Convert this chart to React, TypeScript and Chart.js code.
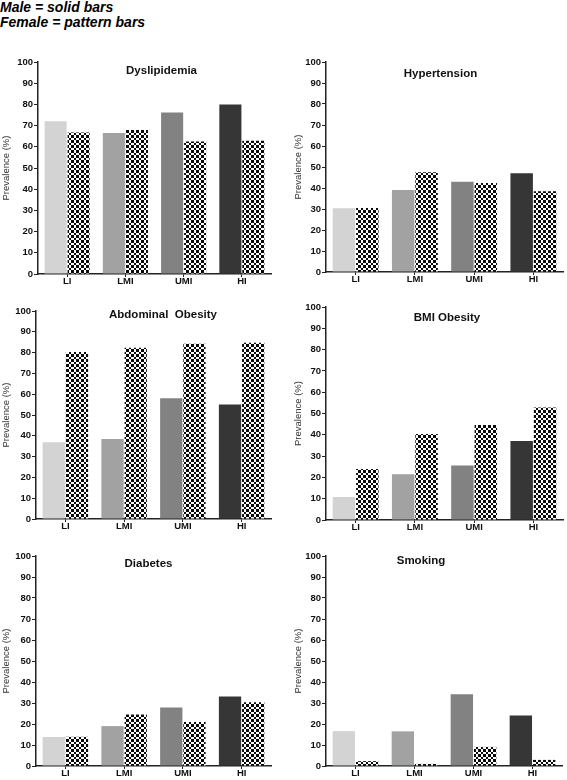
import React, { useEffect, useRef } from "react";
import { Chart, registerables } from "chart.js";

Chart.register(...registerables);

// ---- data ----
const CATEGORIES = ["LI", "LMI", "UMI", "HI"];
const Y_MIN = 0;
const Y_MAX = 100;
const Y_STEP = 10;
const MALE_COLORS = ["#d3d3d3", "#a2a2a2", "#828282", "#363636"];

const DYS_MALE = [72, 66.5, 76.2, 80];
const DYS_FEMALE = [66.8, 67.9, 62.5, 62.8];
const HYP_MALE = [30.3, 39, 43, 47];
const HYP_FEMALE = [30.5, 47.5, 42.4, 38.5];
const ABD_MALE = [36.9, 38.5, 58, 55.1];
const ABD_FEMALE = [80.3, 82.3, 84.2, 84.7];
const BMI_MALE = [10.8, 21.5, 25.6, 37.1];
const BMI_FEMALE = [23.9, 40.4, 44.6, 52.8];
const DIA_MALE = [13.8, 19, 27.9, 33.1];
const DIA_FEMALE = [13.9, 24.5, 21, 30.3];
const SMK_MALE = [16.6, 16.5, 34.2, 24.1];
const SMK_FEMALE = [2.3, 1, 9.1, 2.9];

const TITLES = ["Dyslipidemia", "Hypertension", "Abdominal  Obesity", "BMI Obesity", "Diabetes", "Smoking"];
const Y_TITLE = "Prevalence (%)";
const LEGEND_LINES = ["Male = solid bars", "Female = pattern bars"];

// ---- layout (page coordinates of each plot area) ----
const FONT = "'Liberation Sans', Arial, Helvetica, sans-serif";
const PANELS = [
  { title: TITLES[0], male: DYS_MALE, female: DYS_FEMALE, area: { l: 38, t: 62, r: 271, b: 274 }, tdx: 7, tdy: 9, yTitleX: 7 },
  { title: TITLES[1], male: HYP_MALE, female: HYP_FEMALE, area: { l: 326, t: 62, r: 563, b: 272 }, tdx: -4, tdy: 12, yTitleX: 298.5 },
  { title: TITLES[2], male: ABD_MALE, female: ABD_FEMALE, area: { l: 36, t: 311, r: 271, b: 519 }, tdx: 9.5, tdy: 3.5, yTitleX: 7 },
  { title: TITLES[3], male: BMI_MALE, female: BMI_FEMALE, area: { l: 326, t: 307, r: 563, b: 520 }, tdx: 2.5, tdy: 11, yTitleX: 298.5 },
  { title: TITLES[4], male: DIA_MALE, female: DIA_FEMALE, area: { l: 36, t: 556, r: 271, b: 766 }, tdx: -5, tdy: 7.5, yTitleX: 7 },
  { title: TITLES[5], male: SMK_MALE, female: SMK_FEMALE, area: { l: 326, t: 556, r: 562, b: 766 }, tdx: -23, tdy: 5, yTitleX: 298.5 },
];

const PAD_TOP = 12;
const PAD_RIGHT = 6;
const X_AXIS_H = 16;
const Y_TITLE_SIZE = 9.5;
const Y_TITLE_LH = 1.2;

function makeChecker(): CanvasPattern | string {
  const c = document.createElement("canvas");
  c.width = 5;
  c.height = 5;
  const g = c.getContext("2d");
  if (!g) return "#555";
  g.fillStyle = "#ffffff";
  g.fillRect(0, 0, 5, 5);
  g.fillStyle = "#0a0a0a";
  g.fillRect(0, 0, 3, 3);
  g.fillRect(3, 3, 2, 2);
  return g.createPattern(c, "repeat") || "#555";
}

type PanelDef = (typeof PANELS)[number];

function Panel({ p }: { p: PanelDef }) {
  const ref = useRef<HTMLCanvasElement | null>(null);
  const canvasLeft = Math.round(p.yTitleX - (Y_TITLE_SIZE * Y_TITLE_LH) / 2);
  const yAxisW = p.area.l - canvasLeft;
  const canvasTop = p.area.t - PAD_TOP;
  const width = p.area.r - canvasLeft + PAD_RIGHT;
  const height = p.area.b - p.area.t + PAD_TOP + X_AXIS_H;

  useEffect(() => {
    if (!ref.current) return;
    const checker = makeChecker();
    const titlePlugin = {
      id: "innerTitle",
      afterDraw(chart: any) {
        const { ctx, chartArea } = chart;
        ctx.save();
        ctx.font = `bold 11.5px ${FONT}`;
        ctx.fillStyle = "#111";
        ctx.textAlign = "center";
        ctx.textBaseline = "middle";
        ctx.fillText(p.title, (chartArea.left + chartArea.right) / 2 + p.tdx, chartArea.top + p.tdy);
        ctx.restore();
      },
    };
    const chart = new Chart(ref.current, {
      type: "bar",
      data: {
        labels: CATEGORIES,
        datasets: [
          {
            label: "Male",
            data: p.male,
            backgroundColor: MALE_COLORS,
            borderWidth: 0,
            categoryPercentage: 0.79,
            barPercentage: 0.96,
          },
          {
            label: "Female",
            data: p.female,
            backgroundColor: checker as any,
            borderWidth: 0,
            categoryPercentage: 0.79,
            barPercentage: 0.96,
          },
        ],
      },
      options: {
        animation: false,
        responsive: false,
        maintainAspectRatio: false,
        devicePixelRatio: 1,
        layout: { padding: { top: PAD_TOP, right: PAD_RIGHT, left: 0, bottom: 0 } },
        plugins: {
          legend: { display: false },
          tooltip: { enabled: false },
          title: { display: false },
        },
        scales: {
          x: {
            offset: true,
            grid: {
              offset: false,
              drawOnChartArea: false,
              drawTicks: true,
              tickLength: 3,
              color: "#222",
              lineWidth: 1,
            },
            border: { display: true, color: "#222", width: 1.5 },
            ticks: {
              color: "#111",
              padding: -1,
              font: { family: FONT, size: 9.5, weight: "bold" },
            },
            afterFit: (s: any) => {
              s.height = X_AXIS_H;
            },
          },
          y: {
            min: Y_MIN,
            max: Y_MAX,
            grid: {
              drawOnChartArea: false,
              drawTicks: true,
              tickLength: 4,
              color: "#222",
              lineWidth: 1,
            },
            border: { display: true, color: "#222", width: 1.5 },
            ticks: {
              stepSize: Y_STEP,
              color: "#111",
              padding: 1,
              font: { family: FONT, size: 9.5, weight: "bold" },
            },
            title: {
              display: true,
              text: Y_TITLE,
              color: "#333",
              padding: 0,
              font: { family: FONT, size: Y_TITLE_SIZE, lineHeight: Y_TITLE_LH },
            },
            afterFit: (s: any) => {
              s.width = yAxisW;
            },
          },
        },
      },
      plugins: [titlePlugin],
    });
    return () => chart.destroy();
  }, []);

  return (
    <canvas
      ref={ref}
      width={width}
      height={height}
      style={{ position: "absolute", left: canvasLeft, top: canvasTop, width, height }}
    />
  );
}

export default function App() {
  return (
    <div style={{ position: "fixed", left: 0, top: 0, width: 567, height: 780, background: "#fff", overflow: "hidden" }}>
      <div
        style={{
          position: "absolute",
          left: 0,
          top: -0.5,
          fontFamily: FONT,
          fontWeight: "bold",
          fontStyle: "italic",
          fontSize: 14,
          lineHeight: "15.3px",
          color: "#000",
          whiteSpace: "nowrap",
        }}
      >
        {LEGEND_LINES.map((l) => (
          <div key={l}>{l}</div>
        ))}
      </div>
      {PANELS.map((p) => (
        <Panel key={p.title} p={p} />
      ))}
    </div>
  );
}
